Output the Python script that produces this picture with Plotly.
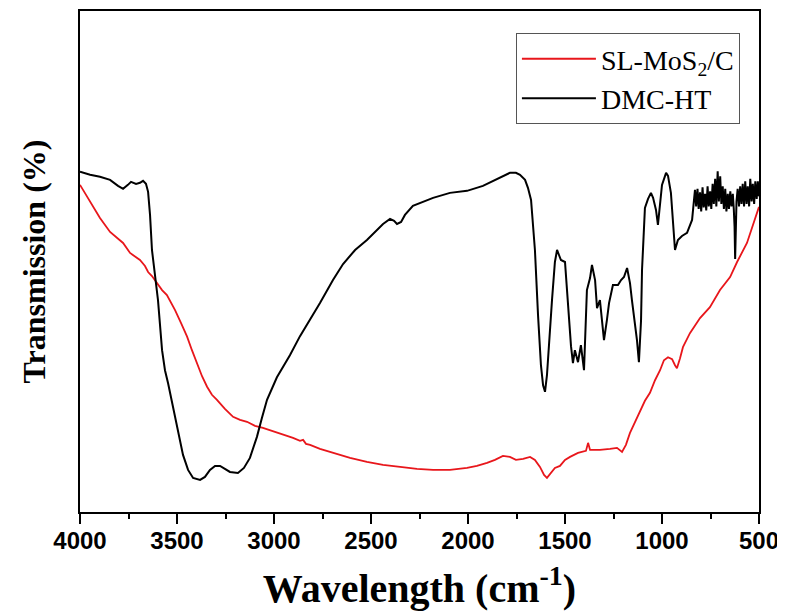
import plotly.graph_objects as go

# DMC-HT (black)
dmc_wn = [4000, 3948, 3897, 3845, 3804, 3778, 3753, 3737, 3711, 3691, 3675, 3660, 3649, 3639, 3629,
          3613, 3598, 3577, 3562, 3546, 3510, 3469, 3443, 3417, 3381, 3356, 3330, 3304, 3278, 3253,
          3227, 3186, 3155, 3124, 3088, 3062, 3036, 2985, 2918, 2866, 2814, 2763, 2696, 2644, 2582,
          2521, 2438, 2402, 2381, 2366, 2345, 2325, 2284, 2180, 2093, 2005, 1923, 1835, 1784, 1753,
          1732, 1706, 1691, 1675, 1665, 1655, 1639, 1624, 1613, 1603, 1593, 1583, 1567, 1552, 1541,
          1531, 1521, 1500, 1490, 1480, 1469, 1459, 1449, 1433, 1418, 1402, 1387, 1371, 1361, 1345,
          1335, 1320, 1309, 1299, 1284, 1273, 1253, 1227, 1211, 1196, 1180, 1165, 1155, 1139, 1129,
          1119, 1108, 1103, 1093, 1088, 1072, 1057, 1046, 1031, 1021, 1010, 1000, 979, 969, 954,
          943, 933, 918, 897, 871, 856, 845, 835,
          830, 824, 817, 811, 804, 798, 791, 785, 778, 772, 765, 759, 752, 746, 739, 733, 726, 720,
          713, 707, 700, 694, 687, 681, 674, 668, 661, 655, 648, 642, 635, 630, 626, 623, 620, 616,
          610, 603, 597, 590, 584, 577, 571, 564, 558, 551, 545, 538, 532, 525, 519, 512, 506, 500]
dmc_t = [67.9, 67.3, 66.9, 66.3, 65.1, 64.5, 65.3, 65.9, 65.5, 65.7, 66.1, 65.5, 63.9, 59.3, 52.3,
         47.3, 42.3, 32.3, 28.3, 25.7, 19.0, 11.4, 8.4, 6.8, 6.4, 7.0, 8.4, 9.2, 9.2, 8.6,
         8.0, 7.8, 8.8, 10.8, 15.0, 18.8, 22.4, 26.9, 31.3, 35.1, 38.3, 41.7, 46.3, 49.5, 52.3,
         54.3, 57.5, 58.5, 58.1, 57.5, 57.9, 59.3, 61.1, 62.7, 63.7, 64.1, 65.1, 66.7, 67.7, 67.7,
         67.3, 66.3, 64.7, 62.3, 57.3, 52.3, 39.3, 29.3, 25.3, 24.0, 27.3, 33.7, 42.3, 49.9, 52.3,
         51.3, 50.3, 49.9, 44.3, 38.3, 33.1, 29.7, 32.3, 29.9, 33.3, 28.3, 44.3, 46.7, 49.3, 46.3,
         40.7, 42.3, 38.3, 34.3, 38.3, 41.7, 45.3, 45.3, 46.3, 46.9, 48.7, 45.7, 42.3, 37.7, 34.3,
         29.9, 38.3, 48.3, 56.3, 60.7, 62.5, 63.7, 62.7, 60.3, 57.3, 62.3, 65.3, 67.7, 67.1, 63.7,
         57.3, 52.3, 54.3, 55.1, 55.7, 57.3, 58.3, 62.3,
         64.3, 61.0, 64.5, 60.5, 63.8, 60.0, 64.8, 60.8, 63.5, 60.2, 65.0, 61.0, 64.0, 60.5, 65.5, 61.5, 66.5, 61.0,
         68.0, 62.0, 67.0, 61.5, 65.0, 60.5, 64.5, 60.0, 63.5, 60.5, 64.0, 61.0, 63.5, 60.5, 57.0, 50.5, 55.0, 62.0,
         64.5, 61.0, 65.0, 61.5, 65.5, 61.0, 66.0, 61.5, 65.0, 61.0, 66.5, 62.0, 65.5, 61.5, 66.0, 62.5, 66.0, 63.0]

# SL-MoS2/C (red)
sl_wn = [4000, 3969, 3933, 3897, 3845, 3809, 3778, 3742, 3691, 3665, 3649, 3629, 3603, 3577, 3552,
         3510, 3479, 3448, 3423, 3397, 3371, 3345, 3320, 3294, 3253, 3211, 3175, 3139, 3098, 3057,
         3010, 2969, 2933, 2902, 2866, 2850, 2835, 2814, 2763, 2696, 2608, 2521, 2438, 2350, 2263,
         2180, 2093, 2005, 1954, 1902, 1861, 1820, 1784, 1753, 1716, 1680, 1655, 1629, 1608, 1593,
         1577, 1552, 1526, 1500, 1474, 1433, 1392, 1381, 1371, 1320, 1268, 1232, 1206, 1186, 1165,
         1139, 1113, 1088, 1062, 1036, 1010, 990, 969, 948, 933, 923, 907, 892, 856, 804,
         753, 701, 649, 613, 562, 531, 500]
sl_t = [65.3, 63.3, 60.9, 58.7, 55.9, 54.7, 53.7, 51.7, 50.3, 49.1, 47.9, 47.1, 45.7, 44.3, 43.3,
        40.3, 37.7, 35.0, 32.3, 29.7, 27.1, 25.0, 23.4, 22.4, 20.6, 19.0, 18.4, 18.0, 17.2, 16.8,
        16.2, 15.8, 15.2, 14.8, 14.2, 14.4, 13.6, 13.4, 12.6, 11.8, 10.8, 10.0, 9.4, 9.0, 8.6,
        8.4, 8.4, 8.8, 9.2, 9.8, 10.4, 11.2, 11.0, 10.4, 10.6, 11.0, 10.4, 9.0, 7.4, 6.8,
        7.6, 8.8, 9.2, 10.4, 11.0, 11.8, 12.2, 13.8, 12.4, 12.4, 12.6, 12.8, 12.0, 13.4, 15.8,
        18.0, 20.4, 22.2, 23.8, 26.3, 28.3, 30.3, 30.9, 30.5, 29.3, 28.7, 30.7, 32.9, 35.7, 38.7,
        40.9, 44.3, 46.9, 49.9, 53.7, 57.3, 60.9]

x_ticks = [4000, 3500, 3000, 2500, 2000, 1500, 1000, 500]

fig = go.Figure()
fig.add_trace(go.Scatter(x=sl_wn, y=sl_t, mode="lines", name="SL-MoS<sub>2</sub>/C",
                         line=dict(color="#e8161b", width=1.8)))
fig.add_trace(go.Scatter(x=dmc_wn, y=dmc_t, mode="lines", name="DMC-HT",
                         line=dict(color="black", width=2)))

# the page body adds an 8px margin, so the figure is sized to fit the 785x611 window
fig.update_layout(
    width=777, height=603,
    margin=dict(l=72, r=26, t=3, b=99),
    plot_bgcolor="white", paper_bgcolor="white",
    showlegend=True,
    legend=dict(x=0.642, y=0.956, xanchor="left", yanchor="top",
                bordercolor="#555555", borderwidth=1, bgcolor="white",
                font=dict(family="Liberation Serif", size=28, color="black"),
                tracegroupgap=0, itemwidth=74),
    xaxis=dict(range=[4000, 500], tickvals=x_ticks, ticktext=[str(v) for v in x_ticks],
               automargin=False,
               showline=True, linecolor="black", linewidth=2, mirror=True,
               ticks="outside", ticklen=10, tickwidth=2, tickcolor="black",
               ticklabelstandoff=-4,
               minor=dict(ticks="outside", ticklen=5, tickwidth=2, tickcolor="black", dtick=250,
                          showgrid=False),
               showgrid=False, zeroline=False,
               tickfont=dict(family="Liberation Sans", size=24, color="black", weight="bold"),
               title=dict(text="Wavelength (cm<sup>-1</sup>)", standoff=21,
                          font=dict(family="Liberation Serif", size=40, color="black", weight="bold"))),
    yaxis=dict(range=[0, 100], showline=True, linecolor="black", linewidth=2, mirror=True,
               automargin=False,
               ticks="", showticklabels=False, showgrid=False, zeroline=False,
               title=dict(text="Transmission (%)", standoff=23,
                          font=dict(family="Liberation Serif", size=32, color="black", weight="bold"))),
)

fig.write_html("out.html")
